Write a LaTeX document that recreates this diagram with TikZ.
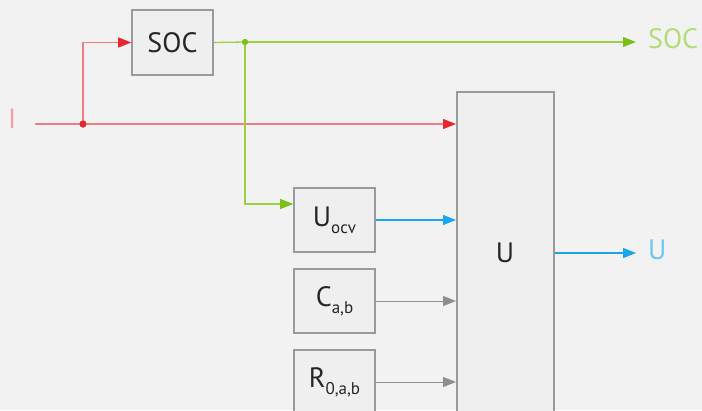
\documentclass[tikz,border=0pt]{standalone}
\usepackage{fontspec}
\setmainfont{PT Sans}
\usetikzlibrary{arrows.meta}
\definecolor{bg}{HTML}{F2F2F2}
\definecolor{boxfill}{HTML}{EFEFEF}
\definecolor{boxdraw}{HTML}{9A9A9A}
\definecolor{redline}{HTML}{F07C84}
\definecolor{redtip}{HTML}{E8262F}
\definecolor{greenline}{HTML}{9CD040}
\definecolor{greentip}{HTML}{7DC01A}
\definecolor{bluelbl}{HTML}{6EC6F2}
\definecolor{greenlbl}{HTML}{B4DC78}
\definecolor{redlbl}{HTML}{F2A0A6}
\definecolor{blueline}{HTML}{1AA6EC}
\definecolor{grayline}{HTML}{8E8E8E}
\newcommand{\sbs}[1]{\raisebox{-7pt}{\fontsize{17}{17}\selectfont #1}}
\tikzset{
  blk/.style={draw=boxdraw, fill=boxfill, line width=1.6pt, inner sep=0pt, font=\fontsize{28}{28}\selectfont, text=black!85},
  tipred/.style={-{Triangle[length=13pt,width=10pt,fill=redtip,color=redtip]}},
  wred/.style={draw=redline, line width=1.3pt},
  wgreen/.style={draw=greenline, line width=1.3pt},
  wblue/.style={draw=blueline, line width=1.3pt},
  wgray/.style={draw=grayline, line width=1pt},
  tipg/.style={-{Triangle[length=13pt,width=10pt,fill=greentip,color=greentip]}},
  tipb/.style={-{Triangle[length=13pt,width=10pt,fill=blueline,color=blueline]}},
  tipgr/.style={-{Triangle[length=13pt,width=10pt,fill=grayline,color=grayline]}},
  lbl/.style={inner sep=0pt, font=\fontsize{28}{28}\selectfont, anchor=west},
  dotr/.style={circle, fill=redtip, inner sep=0pt, minimum size=7pt},
  dotg/.style={circle, fill=greentip, inner sep=0pt, minimum size=6pt},
}
\begin{document}
\begin{tikzpicture}[x=1pt,y=-1pt]
\fill[bg] (0,0) rectangle (702,410);
\useasboundingbox (0,0) rectangle (702,410);
\begin{scope}
\clip (0,0) rectangle (702,410);
\node[blk, minimum width=81pt, minimum height=65pt] (soc) at (172.5,42.5) {SOC};
\node[blk, minimum width=97pt, minimum height=330pt, anchor=north west] (ubox) at (456,91) {};
\node[inner sep=0pt, font=\fontsize{28}{28}\selectfont, text=black!85] (ulab) at (505,253) {U};
\node[blk, minimum width=81pt, minimum height=64pt] (uocv) at (334.5,220) {U\sbs{ocv}};
\node[blk, minimum width=81pt, minimum height=64pt] (cab) at (334.5,301) {C\sbs{a,b}};
\node[blk, minimum width=81pt, minimum height=64pt] (rab) at (334.5,382) {R\sbs{0,a,b}};
\end{scope}
% labels
\node[lbl, text=redlbl] (ilab) at (8,119) {I};
\node[lbl, text=greenlbl] (soclab) at (648,39) {SOC};
\node[lbl, text=bluelbl] (uout) at (648,250) {U};
% coordinates
\coordinate (istart) at (35,124);
\node[dotr] (jr) at (83,124) {};
\node[dotg] (jg) at (245,42) {};
\coordinate (socend) at (636,42);
\coordinate (uend) at (636,253);
% red
\draw[wred, tipred] (istart) -- (ubox.west |- istart);
\draw[wred, tipred] (jr.center) |- (soc.west);
% green
\draw[wgreen] (soc.east) -- (jg);
\draw[wgreen, tipg] (jg) -- (socend);
\draw[wgreen, tipg] (jg.center) |- (uocv.west |- 0,204);
% blue
\draw[wblue, tipb] (uocv.east) -- (ubox.west |- uocv.east);
\draw[wblue, tipb] (ubox.east |- 0,253) -- (uend);
% gray
\draw[wgray, tipgr] (cab.east) -- (ubox.west |- cab.east);
\draw[wgray, tipgr] (rab.east) -- (ubox.west |- rab.east);
\node[dotr] at (jr) {};
\node[dotg] at (jg) {};
\end{tikzpicture}
\end{document}
